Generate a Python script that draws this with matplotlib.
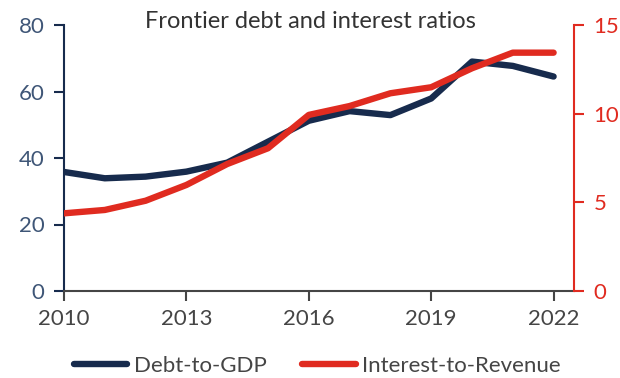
import matplotlib.pyplot as plt
from matplotlib.ticker import MultipleLocator

# ── Data ──────────────────────────────────────────────────────────────────────

years = [2010, 2011, 2012, 2013, 2014, 2015, 2016, 2017, 2018, 2019, 2020, 2021, 2022]
debt_to_gdp = [35.8, 33.9, 34.4, 35.9, 38.6, 44.9, 51.2, 54.1, 52.9, 57.9, 69.0, 67.7, 64.5]
interest_to_revenue = [4.38, 4.57, 5.09, 5.98, 7.16, 8.05, 9.93, 10.43, 11.15, 11.49, 12.56, 13.44, 13.44]
x_ticks = [2010, 2013, 2016, 2019, 2022]

# ── Style ─────────────────────────────────────────────────────────────────────

NAVY = "#172b4d"
RED = "#e02b20"
SLATE = "#3f5677"
GREY = "#454545"

plt.rcParams["font.family"] = ["Lato", "DejaVu Sans"]

fig = plt.figure(figsize=(6.2, 3.78), dpi=100)
ax = fig.add_axes([64 / 620, 1 - 291 / 378, 510 / 620, 266 / 378])
ax2 = ax.twinx()

l1, = ax.plot(years, debt_to_gdp, color=NAVY, lw=4.6, solid_capstyle="round", zorder=3)
l2, = ax2.plot(years, interest_to_revenue, color=RED, lw=4.6, solid_capstyle="round", zorder=3)

ax.set_xlim(2010, 2022.5)
ax.set_ylim(0, 80)
ax2.set_ylim(0, 15)
ax.set_xticks(x_ticks)
ax.yaxis.set_major_locator(MultipleLocator(20))
ax2.yaxis.set_major_locator(MultipleLocator(5))

for side in ["top", "right"]:
    ax.spines[side].set_visible(False)
for side in ["top", "left", "bottom"]:
    ax2.spines[side].set_visible(False)
ax.spines["left"].set_color(NAVY)
ax.spines["left"].set_linewidth(1.5)
ax.spines["bottom"].set_color(GREY)
ax.spines["bottom"].set_linewidth(1.5)
ax2.spines["right"].set_color(RED)
ax2.spines["right"].set_linewidth(1.5)

ax.tick_params(axis="y", colors=NAVY, labelcolor=SLATE, labelsize=16, length=7, width=1.5, pad=7)
ax.tick_params(axis="x", colors=GREY, labelcolor=GREY, labelsize=16, length=7, width=1.5, pad=6)
ax2.tick_params(axis="y", colors=RED, labelcolor=RED, labelsize=16, length=7, width=1.5, pad=7)

# keep the red line above the navy one
ax2.set_zorder(ax.get_zorder() + 1)
ax2.patch.set_visible(False)

fig.text(0.5, 1 - 22 / 378, "Frontier debt and interest ratios", ha="center", va="center",
         fontsize=17, color="#333333")

fig.legend([l1, l2], ["Debt-to-GDP", "Interest-to-Revenue"], loc="center",
           bbox_to_anchor=(0.512, 1 - 366 / 378), ncol=2, frameon=False, fontsize=16,
           handlelength=2.4, handletextpad=0.3, columnspacing=1.6, labelcolor=GREY)

fig.savefig("out.png", dpi=100)
